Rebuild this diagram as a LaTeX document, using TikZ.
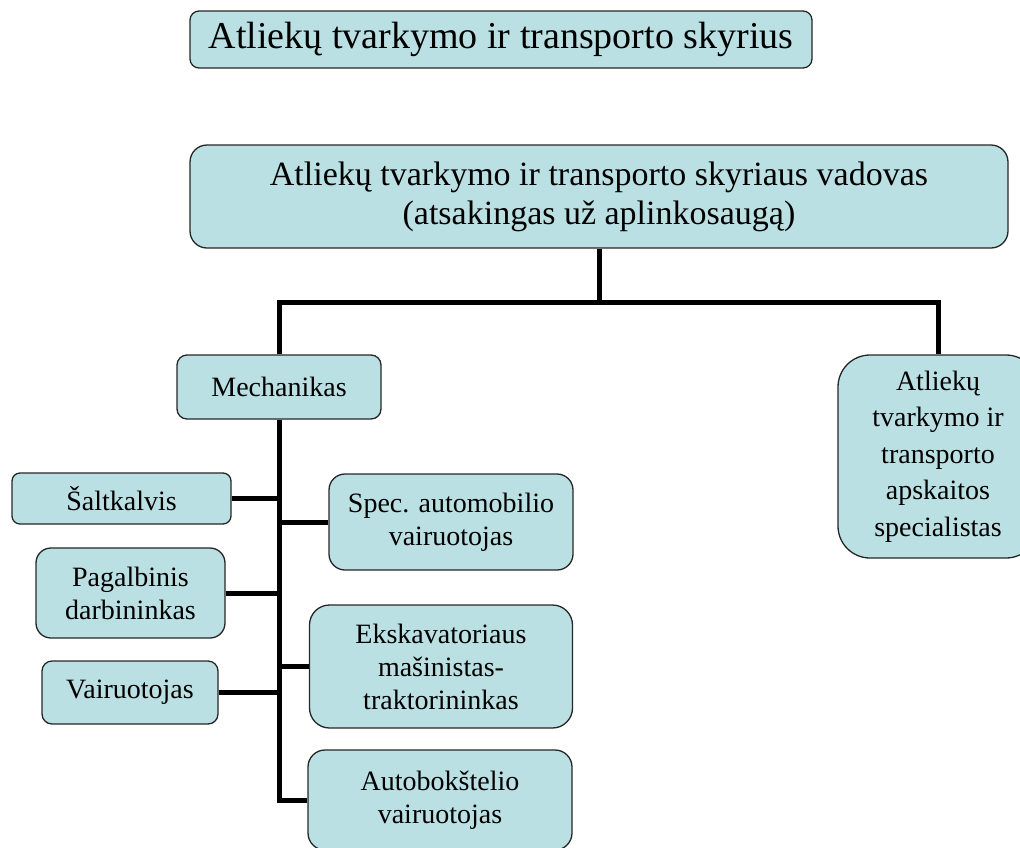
\documentclass[tikz,border=0pt]{standalone}
\usepackage{fontspec}
\setmainfont{Liberation Serif}
\definecolor{boxfill}{RGB}{187,224,227}

\begin{document}
\begin{tikzpicture}[x=1pt,y=-1pt,
		unit/.style={draw=black!85, line width=1.3pt, fill=boxfill,
			rounded corners=#1, inner sep=0pt, align=center,
			font=\fontsize{28}{33}\selectfont},
		link/.style={line width=5pt, color=black}]
		\useasboundingbox (0,0) rectangle (1020,847);

		\node[unit=9pt, minimum width=622pt, minimum height=57pt,
			font=\fontsize{38}{44}\selectfont] (dept) at (501,39.5)
			{Atliekų tvarkymo ir transporto skyrius};
		\node[unit=17pt, minimum width=818pt, minimum height=103pt,
			font=\fontsize{34}{39}\selectfont] (head) at (599,196.5)
			{Atliekų tvarkymo ir transporto skyriaus vadovas\\(atsakingas už aplinkosaugą)};

		\node[unit=10pt, minimum width=204pt, minimum height=64pt] (mech) at (279,387) {Mechanikas};
		\node[unit=32pt, minimum width=200pt, minimum height=203pt,
			font=\fontsize{28}{36.5}\selectfont] (acc) at (938,456.5)
			{Atliekų\\tvarkymo ir\\transporto\\apskaitos\\specialistas};

		\node[unit=8pt, minimum width=219pt, minimum height=51pt] (locksmith) at (121.5,498.5) {Šaltkalvis};
		\node[unit=15pt, minimum width=189pt, minimum height=90pt] (helper) at (130.5,593) {Pagalbinis\\darbininkas};
		\node[unit=10pt, minimum width=176pt, minimum height=63pt] (driver) at (130,692.5) {Vairuotojas};

		\node[unit=16pt, minimum width=244pt, minimum height=96pt] (specdriver) at (451,522) {Spec. automobilio\\vairuotojas};
		\node[unit=20pt, minimum width=263pt, minimum height=123pt] (excav) at (441,666.5) {Ekskavatoriaus\\mašinistas-\\traktorininkas};
		\node[unit=17pt, minimum width=264pt, minimum height=100pt] (lift) at (440,800) {Autobokštelio\\vairuotojas};

		% top level
		\draw[link] (head.south) -- ++(0,54) coordinate (fork);
		\draw[link] (mech.north) |- (fork) -| (acc.north);

		% under the mechanic
		\draw[link] (mech.south) |- (lift.west);
		\draw[link] (locksmith.east) -- (locksmith.east -| mech.south);
		\draw[link] (helper.east) -- (helper.east -| mech.south);
		\draw[link] (driver.east) -- (driver.east -| mech.south);
		\draw[link] (specdriver.west) -- (specdriver.west -| mech.south);
		\draw[link] (excav.west) -- (excav.west -| mech.south);
	\end{tikzpicture}
\end{document}
